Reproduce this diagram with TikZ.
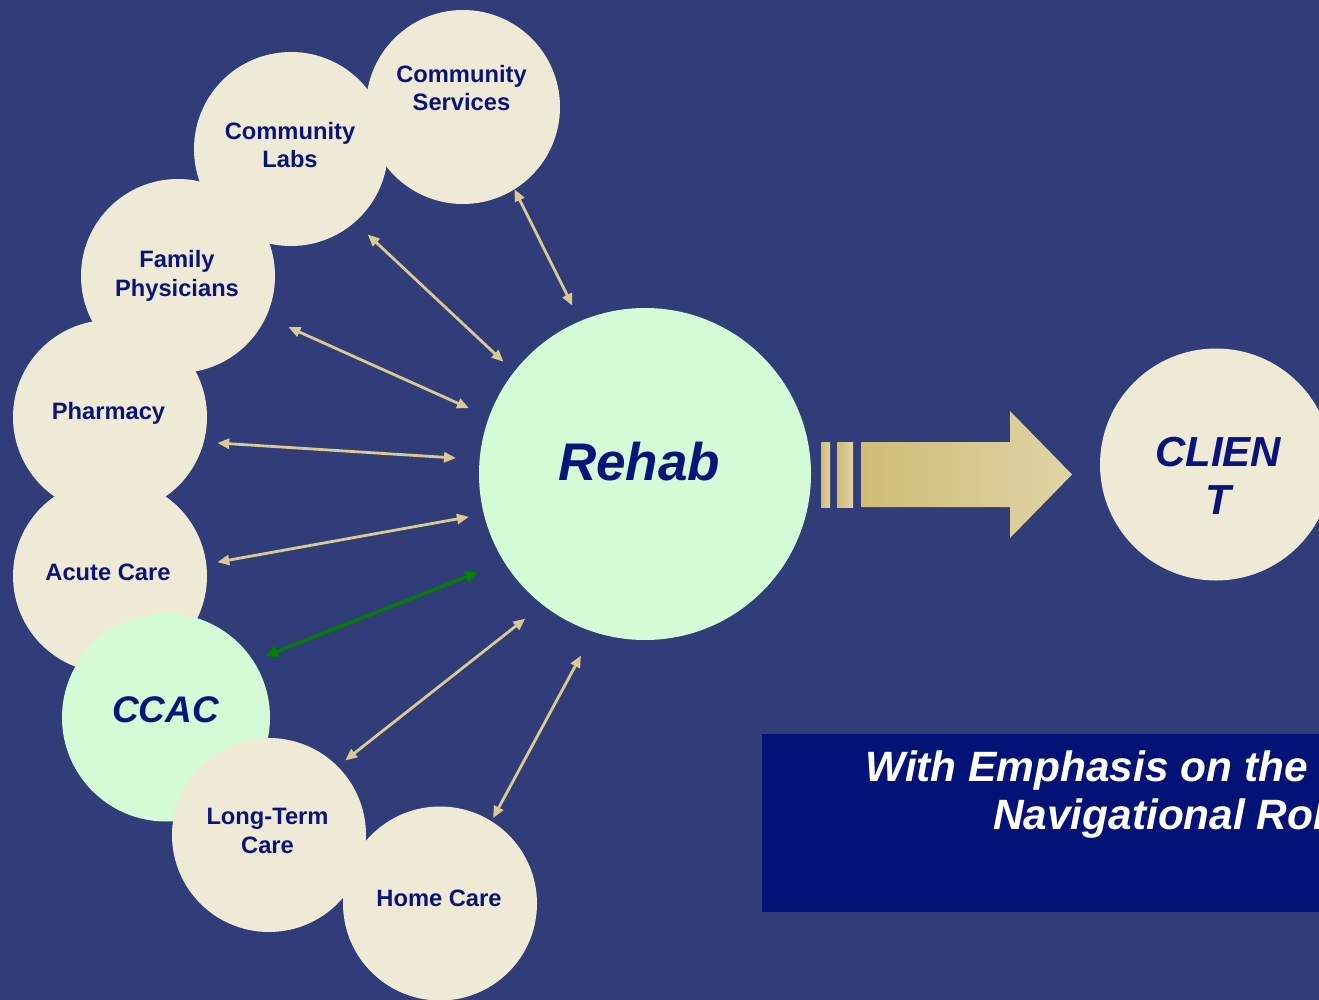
\documentclass[tikz,border=0pt]{standalone}
\usepackage{fontspec}
\setmainfont{Liberation Sans}
\usetikzlibrary{arrows.meta}
\definecolor{bgc}{RGB}{48,61,121}
\definecolor{beige}{RGB}{239,234,214}
\definecolor{mint}{RGB}{212,251,214}
\definecolor{navy}{RGB}{8,20,122}
\definecolor{tan}{RGB}{217,201,146}
\definecolor{darkgreen}{RGB}{0,128,0}
\definecolor{boxc}{RGB}{2,18,118}
\definecolor{goldL}{RGB}{207,188,117}
\definecolor{goldR}{RGB}{223,212,165}
\begin{document}
\begin{tikzpicture}[x=1pt,y=-1pt,
  circ/.style={circle,draw=none,fill=beige,inner sep=0pt,outer sep=0pt,minimum size=#1},
  circ/.default=194pt,
  mcirc/.style={circ=#1,fill=mint},
  lbl/.style={font=\fontsize{23.7}{28.5}\selectfont\bfseries,text=navy,align=center,inner sep=0pt},
  conn/.style={draw=tan,line width=2.8pt,{Triangle[length=12pt,width=10pt]}-{Triangle[length=12pt,width=10pt]}},
  gconn/.style={draw=darkgreen,line width=3.3pt,{Triangle[length=13pt,width=11pt]}-{Triangle[length=13pt,width=11pt]}}
]
\useasboundingbox (0,0) rectangle (1319,1000);
\clip (0,0) rectangle (1319,1000);
\fill[bgc] (0,0) rectangle (1319,1000);

% surrounding circles
\node[circ] (cs) at (463,107) {};
\node[circ] (cl) at (291,149) {};
\node[circ] (fp) at (178,276) {};
\node[circ] (ph) at (110,417) {};
\node[circ] (ac) at (110,576) {};
\node[mcirc=208pt] (ccac) at (166,717.5) {};
\node[circ] (ltc) at (269,835) {};
\node[circ] (hc) at (440,903.5) {};
\node[mcirc=332pt] (rehab) at (645,474) {};
\node[circ=232pt] (client) at (1216,464.5) {};

% labels
\node[lbl] (cst) at (461.5,88) {Community\\Services};
\node[lbl] (clt) at (290,145) {Community\\Labs};
\node[lbl] (fpt) at (177,276) {Family\\Physicians};
\node[lbl] (pht) at (108.5,413) {Pharmacy};
\node[lbl] (act) at (108,572.5) {Acute Care};
\node[lbl,font=\fontsize{37}{44}\selectfont\bfseries\itshape] (ccact) at (165.5,709.7) {CCAC};
\node[lbl] (ltct) at (267.5,831) {Long-Term\\Care};
\node[lbl] (hct) at (439,898.3) {Home Care};
\node[lbl,font=\fontsize{53}{60}\selectfont\bfseries\itshape] (rehabt) at (639,461.2) {Rehab};
\node[lbl,font=\fontsize{42}{48}\selectfont\bfseries\itshape] (clientt) at (1218,476) {CLIEN\\T};

% connectors
\draw[conn,shorten >=17.3pt] (cs.-58.3) -- (rehab.113.6);
\draw[conn,shorten <=17.9pt,shorten >=14.6pt] (cl.-49.2) -- (rehab.142.2);
\draw[conn,shorten <=24.7pt,shorten >=21.9pt] (fp.-25.3) -- (rehab.160.4);
\draw[conn,shorten <=13.6pt,shorten >=23.7pt] (ph.-15.2) -- (rehab.175.2);
\draw[conn,shorten <=11.2pt,shorten >=15.2pt] (ac.7.6) -- (rehab.-166.3);
\draw[gconn,shorten <=12.6pt,shorten >=28.1pt] (ccac.33.4) -- (rehab.-148.8);
\draw[conn,shorten <=9.6pt,shorten >=22.3pt] (ltc.45.3) -- (rehab.-128.9);
\draw[conn,shorten <=3.5pt,shorten >=26.8pt] (hc.58) -- (rehab.-108.7);

% big arrow towards client
\shade[left color=goldL,right color=goldR] (821,442) rectangle (830,507);
\shade[left color=goldL,right color=goldR] (837,442) rectangle (853,507);
\shade[left color=goldL,right color=goldR]
  (861,442) -- (1010,442) -- (1010,411) -- (1072,474.5) -- (1010,538) -- (1010,507) -- (861,507) -- cycle;

% emphasis box
\node[fill=boxc,inner sep=0pt,outer sep=0pt,minimum width=600pt,minimum height=178pt,anchor=north west] (box) at (762,734) {};
\node[lbl,text=white,font=\fontsize{42.4}{48}\selectfont\bfseries\itshape] (boxt) at (1171,795) {With Emphasis on the CCAC's\\Navigational Role};
\end{tikzpicture}
\end{document}
